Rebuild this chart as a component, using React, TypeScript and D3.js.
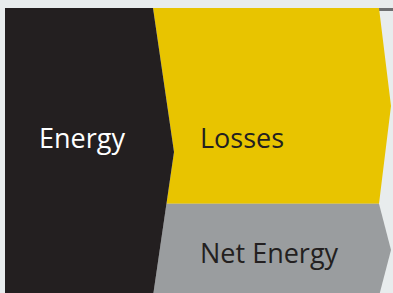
import * as d3 from "d3";
import { ReactElement } from "react";

// input block and its split
const inputLabel = "Energy";
const outputLabels = ["Losses", "Net Energy"];
const outputValues = [68, 32];

const W = 393;
const H = 293;

const App = (): ReactElement => {
    const top = 8;
    const bottom = 296;
    const total = d3.sum(outputValues);

    // vertical stacking scale
    const yScale = d3.scaleLinear().domain([0, total]).range([top, bottom]);

    const leftX = 5;
    const splitX = 153;
    const splitTip = 21;
    const rightX = 379;
    const rightTip = 12;

    const midY = yScale(total / 2);
    // x of the dark chevron edge at a given y
    const edgeX = d3.scaleLinear()
        .domain([top, midY, bottom])
        .range([splitX, splitX + splitTip, splitX]);

    const line = d3.line<[number, number]>();

    const darkPath = line([
        [leftX, top],
        [splitX, top],
        [splitX + splitTip, midY],
        [splitX, bottom],
        [leftX, bottom],
    ]) + "Z";

    const cum = d3.cumsum(outputValues);
    const outputs = outputValues.map((v, i) => {
        const y0 = yScale(cum[i] - v);
        const y1 = yScale(cum[i]);
        const ym = (y0 + y1) / 2;
        const pts: [number, number][] = [];
        // left edge follows the dark chevron
        const ys = [y0, ...(midY > y0 && midY < y1 ? [midY] : []), y1];
        ys.forEach((y) => pts.push([edgeX(y), y]));
        pts.push([rightX, y1]);
        pts.push([rightX + rightTip, ym]);
        pts.push([rightX, y0]);
        return { label: outputLabels[i], path: line(pts) + "Z", y0, y1, ym };
    });

    const fills = ["#e8c400", "#9a9d9f"];

    return (
        <svg width={W} height={H} style={{ position: "absolute", left: 0, top: 0 }}>
            <rect x={0} y={0} width={W} height={H} fill="#e8eced" />
            <rect x={378} y={top} width={W - 378} height={3} fill="#6d6e70" />
            {outputs.map((o, i) => (
                <path key={o.label} d={o.path} fill={fills[i]} />
            ))}
            <path d={darkPath} fill="#231f20" />
            <text
                x={39}
                y={148}
                fill="#ffffff"
                fontFamily="Open Sans"
                fontSize={27}
            >
                {inputLabel}
            </text>
            {outputs.map((o, i) => (
                <text
                    key={o.label + "t"}
                    x={200}
                    y={i === 0 ? 148 : 263}
                    fill="#231f20"
                    fontFamily="Open Sans"
                    fontSize={27}
                >
                    {o.label}
                </text>
            ))}
        </svg>
    );
};

export default App;
